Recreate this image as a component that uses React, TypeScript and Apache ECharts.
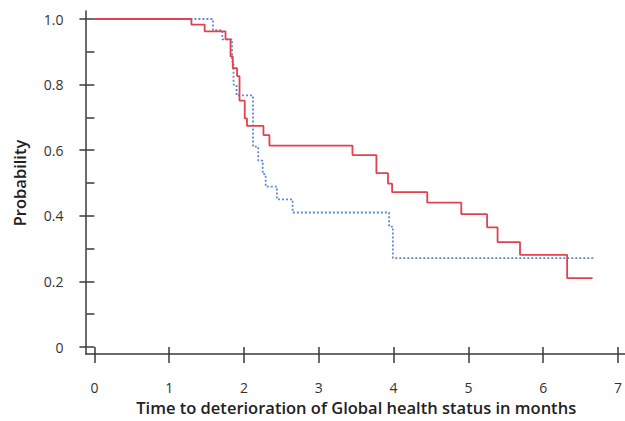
import React, { useEffect, useRef } from "react";
import * as echarts from "echarts";

// Kaplan-Meier step curves: [time in months, probability]
const redTimes = [0, 1.297, 1.474, 1.753, 1.82, 1.85, 1.907, 1.94, 2.01, 2.04, 2.26, 2.34, 3.45, 3.77, 3.925, 3.98, 4.45, 4.905, 5.25, 5.39, 5.69, 6.32, 6.66];
const redProbs = [1.0, 0.983, 0.962, 0.938, 0.886, 0.85, 0.826, 0.751, 0.697, 0.674, 0.646, 0.614, 0.585, 0.53, 0.498, 0.472, 0.44, 0.405, 0.365, 0.32, 0.281, 0.21, 0.21];

const blueTimes = [0, 1.585, 1.71, 1.84, 1.86, 1.9, 2.12, 2.19, 2.25, 2.29, 2.44, 2.65, 3.94, 3.99, 6.67];
const blueProbs = [1.0, 0.966, 0.938, 0.87, 0.8, 0.767, 0.611, 0.568, 0.527, 0.489, 0.45, 0.41, 0.367, 0.271, 0.271];

const xTicks = [0, 1, 2, 3, 4, 5, 6, 7];
const yTicks = [0, 0.2, 0.4, 0.6, 0.8, 1.0];

const xTitle = "Time to deterioration of Global health status in months";
const yTitle = "Probability";

const FONT = "'Open Sans', 'DejaVu Sans', sans-serif";
const AXIS_COLOR = "#3a3a3a";

export default function App() {
  const ref = useRef<HTMLDivElement>(null);

  useEffect(() => {
    if (!ref.current) return;
    const chart = echarts.init(ref.current, undefined, { renderer: "svg" });
    const red = redTimes.map((t, i) => [t, redProbs[i]]);
    const blue = blueTimes.map((t, i) => [t, blueProbs[i]]);

    chart.setOption({
      animation: false,
      backgroundColor: "#ffffff",
      grid: [
        { left: 94.4, right: 6, top: 19, bottom: 74 },
        { left: 86, right: 0, top: 11, bottom: 67 },
      ],
      xAxis: [
        {
          type: "value",
          gridIndex: 0,
          min: xTicks[0],
          max: xTicks[xTicks.length - 1],
          interval: 1,
          offset: 7,
          axisLine: { show: false },
          axisTick: { show: true, length: 16, lineStyle: { color: AXIS_COLOR, width: 1.5 } },
          axisLabel: { margin: 26, color: "#333", fontSize: 14, fontFamily: FONT },
          splitLine: { show: false },
          name: xTitle,
          nameLocation: "middle",
          nameGap: 43,
          nameTextStyle: { color: "#222", fontSize: 16.5, fontWeight: 600, fontFamily: FONT },
        },
        {
          type: "value",
          gridIndex: 1,
          min: 0,
          max: 1,
          axisLine: { show: true, onZero: false, lineStyle: { color: AXIS_COLOR, width: 1.5 } },
          axisTick: { show: false },
          axisLabel: { show: false },
          splitLine: { show: false },
        },
      ],
      yAxis: [
        {
          type: "value",
          gridIndex: 0,
          min: yTicks[0],
          max: yTicks[yTicks.length - 1],
          interval: 0.2,
          offset: 8,
          axisLine: { show: false },
          axisTick: { show: true, length: 15, lineStyle: { color: AXIS_COLOR, width: 1.5 } },
          minorTick: { show: true, splitNumber: 2, length: 8, lineStyle: { color: AXIS_COLOR, width: 1.5 } },
          axisLabel: {
            margin: 23,
            color: "#333",
            fontSize: 14,
            fontFamily: FONT,
            formatter: (v: number) => (v === 0 ? "0" : v.toFixed(1)),
          },
          splitLine: { show: false },
          minorSplitLine: { show: false },
          name: yTitle,
          nameLocation: "middle",
          nameGap: 58,
          nameTextStyle: { color: "#222", fontSize: 16.5, fontWeight: 600, fontFamily: FONT },
        },
        {
          type: "value",
          gridIndex: 1,
          min: 0,
          max: 1,
          axisLine: { show: true, onZero: false, lineStyle: { color: AXIS_COLOR, width: 1.5 } },
          axisTick: { show: false },
          axisLabel: { show: false },
          splitLine: { show: false },
        },
      ],
      series: [
        {
          name: "blue",
          type: "line",
          step: "end",
          xAxisIndex: 0,
          yAxisIndex: 0,
          data: blue,
          showSymbol: false,
          lineStyle: { color: "#5f8bd3", width: 1.8, type: [2, 2] },
          z: 2,
        },
        {
          name: "red",
          type: "line",
          step: "end",
          xAxisIndex: 0,
          yAxisIndex: 0,
          data: red,
          showSymbol: false,
          lineStyle: { color: "#e5404e", width: 1.8 },
          z: 3,
        },
      ],
    });
    return () => chart.dispose();
  }, []);

  return (
    <div style={{ position: "absolute", left: 0, top: 0, width: 625, height: 421, background: "#fff" }}>
      <div ref={ref} style={{ width: 625, height: 421 }} />
    </div>
  );
}
